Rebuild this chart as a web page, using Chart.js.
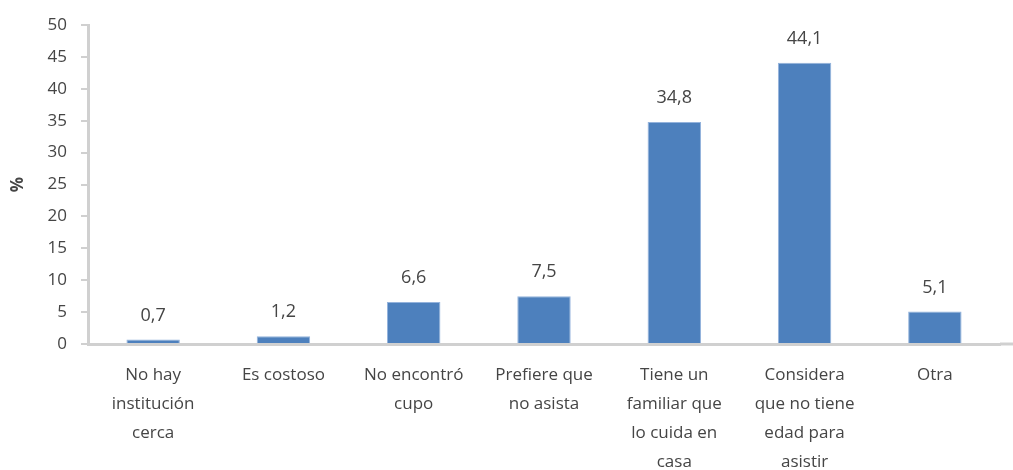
<!DOCTYPE html>
<html>
<head>
<meta charset="utf-8">
<script src="https://cdn.jsdelivr.net/npm/chart.js@4"></script>
<style>
  html, body { margin: 0; padding: 0; background: #fff; }
  #wrap { width: 1013px; height: 470px; position: relative; }
</style>
</head>
<body>
<div id="wrap"><canvas id="razonesChart"></canvas></div>
<script>
const categorias = [
    ["No hay", "institución", "cerca"],
    ["Es costoso"],
    ["No encontró", "cupo"],
    ["Prefiere que", "no asista"],
    ["Tiene un", "familiar que", "lo cuida en", "casa"],
    ["Considera", "que no tiene", "edad para", "asistir"],
    ["Otra"]
];
const porcentajes = [0.7, 1.2, 6.6, 7.5, 34.8, 44.1, 5.1];
const yTicks = [0, 5, 10, 15, 20, 25, 30, 35, 40, 45, 50];

const FONT = "'Open Sans', sans-serif";
const GRIS = "#d0d0d0";
const TEXTO = "#454545";

// etiquetas de valor sobre cada barra + eje x prolongado hasta el borde
const etiquetas = {
    id: "etiquetas",
    afterDatasetsDraw(chart) {
        const ctx = chart.ctx;
        const meta = chart.getDatasetMeta(0);
        ctx.save();
        ctx.font = "18px " + FONT;
        ctx.fillStyle = TEXTO;
        ctx.textAlign = "center";
        ctx.textBaseline = "middle";
        meta.data.forEach((bar, i) => {
            const txt = porcentajes[i].toFixed(1).replace(".", ",");
            ctx.fillText(txt, bar.x, bar.y - 24);
        });
        const y0 = chart.scales.y.getPixelForValue(0);
        ctx.strokeStyle = GRIS;
        ctx.lineWidth = 3;
        ctx.beginPath();
        ctx.moveTo(chart.chartArea.right, y0);
        ctx.lineTo(chart.width, y0);
        ctx.stroke();
        ctx.restore();
    }
};

new Chart(document.getElementById("razonesChart"), {
    type: "bar",
    data: {
        labels: categorias,
        datasets: [{
            data: porcentajes,
            backgroundColor: "#4d80bd",
            borderColor: "#94b3dc",
            borderWidth: 1,
            barPercentage: 1,
            categoryPercentage: 0.41
        }]
    },
    options: {
        responsive: true,
        maintainAspectRatio: false,
        animation: false,
        layout: { padding: { top: 25, right: 13, left: 8, bottom: 0 } },
        plugins: {
            legend: { display: false },
            tooltip: { enabled: false }
        },
        scales: {
            x: {
                grid: { display: false },
                border: { color: GRIS, width: 3 },
                ticks: {
                    color: TEXTO,
                    font: { family: FONT, size: 17, lineHeight: 1.7 },
                    padding: 9,
                    maxRotation: 0,
                    autoSkip: false
                },
                afterFit(scale) { scale.height = 126; }
            },
            y: {
                min: 0,
                max: 50,
                afterBuildTicks(scale) { scale.ticks = yTicks.map(v => ({ value: v })); },
                grid: { drawOnChartArea: false, color: GRIS, tickLength: 7, lineWidth: 2 },
                border: { color: GRIS, width: 3 },
                ticks: {
                    color: TEXTO,
                    font: { family: FONT, size: 17 },
                    padding: 14
                },
                title: {
                    display: true,
                    text: "%",
                    color: TEXTO,
                    font: { family: FONT, size: 17, weight: "bold" },
                    padding: 0
                },
                afterFit(scale) { scale.width = 80; }
            }
        }
    },
    plugins: [etiquetas]
});
</script>
</body>
</html>
